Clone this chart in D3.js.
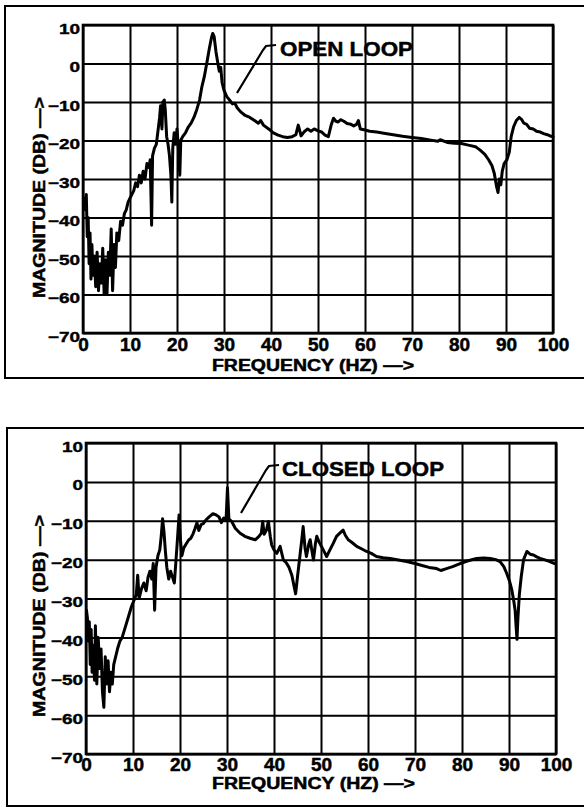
<!DOCTYPE html>
<html><head><meta charset="utf-8">
<script src="https://cdn.jsdelivr.net/npm/d3@7"></script>
<style>
html,body{margin:0;padding:0;background:#fff;}
svg{display:block;}
text{font-family:"Liberation Sans",Arial,sans-serif;font-weight:bold;fill:#000;stroke:#000;stroke-width:0.5px;}
</style></head>
<body>
<svg id="chart" width="584" height="808"></svg>
<script>
// ---------- DATA ----------
const xTicks = [0,10,20,30,40,50,60,70,80,90,100];
const yTicks = [10,0,-10,-20,-30,-40,-50,-60,-70];
const xTitle = "FREQUENCY (HZ) \u2014>";
const yTitle = "MAGNITUDE (DB) \u2014>";

const openFreq = [0.3,0.5,0.7,0.9,1.1,1.3,1.5,1.7,1.9,2.1,2.4,2.7,3.0,3.3,3.6,3.9,4.2,4.5,4.8,5.1,5.4,5.7,6.0,6.3,6.6,6.9,7.2,7.6,8.0,8.4,8.8,9.2,9.6,10.0,10.4,10.8,11.2,11.6,12.0,12.4,12.8,13.2,13.6,14.0,14.3,14.6,14.8,15.2,15.6,16.0,16.3,16.5,16.8,17.0,17.3,17.5,17.8,18.1,18.4,18.7,18.9,19.1,19.4,19.7,20.0,20.3,20.6,20.8,21.2,21.8,22.4,23.0,23.6,24.2,24.8,25.3,25.8,26.4,26.9,27.3,27.6,27.9,28.3,28.7,29.0,29.3,29.6,30.0,30.6,31.2,31.8,32.3,32.8,33.5,34.5,35.5,36.5,37.3,37.8,38.4,39.5,40.5,41.5,42.5,43.5,44.5,45.3,45.8,46.4,47.0,47.8,48.5,49.2,50.0,50.8,51.5,52.2,52.8,53.3,53.8,54.3,54.8,55.5,56.2,57.0,57.6,58.2,58.6,59.0,59.8,61,62.5,64,66,68,70,72,74,75.5,76,77.5,79,80.5,82,83.5,84.5,85.5,86.3,87,87.5,88,88.3,88.6,88.9,89.2,89.6,90.2,90.7,91.1,91.6,92.2,92.8,93.3,93.8,94.4,95,95.8,96.5,97.3,98,98.8,99.6,100];
const openMag = [-35,-38,-34,-45,-40,-52,-44,-56,-47,-55,-50,-58,-49,-59,-52,-57,-48,-60,-51,-60,-49,-55,-43,-59,-47,-53,-44,-46,-41,-42,-39,-38,-36,-35,-34,-33,-31,-32,-29,-31,-28,-30,-26,-27,-25,-42,-24,-22,-21,-17,-14,-11,-17,-10,-9.5,-12,-19,-21,-24,-29,-36,-22,-18,-21,-17,-22,-29,-20,-19,-18,-16.5,-15.5,-14,-12,-9.5,-6,-3.5,0.5,4,6.5,7.8,7,3,0,-2,-1,-5,-7,-8.6,-9.5,-10.5,-10.3,-11.5,-12.5,-13.5,-14,-14.8,-15.5,-14.8,-16,-17,-18,-18.6,-19,-19.2,-19,-18.5,-16,-18.8,-17.8,-17,-17.6,-17,-17.5,-17.8,-18.6,-19,-16,-14.2,-15,-15.2,-14.6,-15,-15.6,-15.8,-16.2,-15.8,-14.8,-17,-17.2,-17.6,-17.8,-18.1,-18.5,-18.9,-19.2,-19.5,-19.9,-20.2,-19.8,-20.5,-20.7,-20.8,-21.2,-21.6,-22.5,-23.6,-25,-26.5,-28.5,-32,-33.5,-30,-31.5,-28,-26,-25,-23,-19,-16.5,-14.8,-14,-14.5,-15.5,-15.8,-16.8,-17,-17.6,-17.8,-18.2,-18.5,-18.9,-19];

const closedFreq = [0.1,0.3,0.5,0.7,0.9,1.1,1.3,1.5,1.8,2.0,2.3,2.6,2.9,3.2,3.5,3.8,4.1,4.4,4.7,5.0,5.3,5.6,5.9,6.3,6.7,7.2,7.7,8.2,8.7,9.2,9.7,10.2,10.7,11.0,11.3,11.8,12.3,12.8,13.2,13.6,14.0,14.3,14.6,14.9,15.3,15.7,16.0,16.3,16.6,16.9,17.2,17.6,18.0,18.4,18.8,19.1,19.5,19.8,20.1,20.4,20.8,21.3,21.8,22.3,22.8,23.2,23.6,24.0,24.5,25.0,25.5,26.2,27.0,27.7,28.3,28.8,29.3,29.8,30.1,30.4,31.0,31.8,32.8,33.8,34.9,36.0,36.8,37.3,37.6,37.9,38.4,38.8,39.2,39.5,40.0,40.6,41.3,42.0,42.6,43.2,43.8,44.3,44.6,45.0,45.5,45.9,46.2,46.6,46.9,47.4,47.7,48.1,48.4,48.8,49.1,49.6,50.1,50.7,51.2,51.9,52.6,53.3,54.0,54.7,55.2,55.8,56.6,57.6,58.6,59.7,60.7,61.8,63.2,64.7,66.5,68.2,70,71.5,73,74.6,75.5,76.7,78,79.6,81.3,83.1,84.6,86,87.2,88.1,88.9,89.5,90.1,90.6,91.0,91.3,91.5,91.7,91.9,92.2,92.6,93.1,93.8,94.5,95.2,95.9,96.6,97.5,98.7,99.7];
const closedMag = [-33,-35,-41,-36,-47,-38,-49,-42,-51,-37,-52,-40,-48,-43,-54,-58,-45,-52,-46,-54,-49,-52,-47,-45,-43,-41,-40,-38,-36,-34,-32,-30.5,-29,-24,-30,-27.5,-26,-28,-24.5,-23,-25,-21,-33,-22,-19,-17.5,-14,-9.5,-13,-18,-22,-25,-23,-24.5,-26,-21,-14,-8.5,-15,-19,-17,-16,-15,-14.5,-13.3,-12,-10.5,-12.5,-11,-10.7,-9.8,-9,-8.2,-8.5,-9,-10.5,-9.3,-9.8,-1.5,-9.5,-10.2,-12,-13.2,-14,-14.5,-14.9,-14,-13.2,-10.2,-13.5,-12.4,-10.2,-14,-16.2,-17.5,-18.4,-16.6,-20.1,-20.8,-22,-24,-27,-28.8,-24.4,-19.2,-15,-11.5,-17,-19.2,-16,-14.9,-18,-20.1,-16,-14,-15.5,-16.6,-18,-19.2,-17.5,-15.8,-14,-13.2,-12.4,-13.8,-14.9,-15.6,-16.6,-17.2,-17.9,-18.4,-19.2,-19.5,-19.7,-20.1,-20.5,-21,-21.5,-22,-22.3,-22.8,-22.3,-21.8,-21,-20.3,-19.7,-19.6,-19.7,-20,-20.5,-21.8,-23.5,-25.5,-27.8,-30.5,-33,-37,-40.5,-35,-29,-24.4,-20,-17.9,-18.6,-18.8,-19.3,-19.7,-20,-20.5,-21];

const panelLabels = ["OPEN LOOP","CLOSED LOOP"];

// ---------- LAYOUT ----------
const panels = [
  {freq:openFreq, mag:openMag, label:panelLabels[0],
   frame:{x:5,y:6,w:620,h:372},
   plot:{l:83,r:553,t:25,b:333},
   labelPos:{x:280,y:56,len:133},
   leader:[[237,93],[263,50],[266,46],[276,45]],
   tickY:18,
   xTitle:{x:212,y:371,len:202}, yTitle:{x:45,y:298,len:201}},
  {freq:closedFreq, mag:closedMag, label:panelLabels[1],
   frame:{x:7,y:428,w:620,h:378},
   plot:{l:86,r:556,t:443,b:754},
   labelPos:{x:282,y:476,len:162},
   leader:[[241,513],[266,470],[269,466],[279,465]],
   tickY:17,
   xTitle:{x:212,y:789,len:203}, yTitle:{x:45,y:717,len:202}}
];

const svg = d3.select("#chart");

panels.forEach(p => {
  const g = svg.append("g");
  g.append("rect").attr("x",p.frame.x).attr("y",p.frame.y)
    .attr("width",p.frame.w).attr("height",p.frame.h)
    .attr("fill","none").attr("stroke","#000").attr("stroke-width",2);

  const x = d3.scaleLinear().domain([0,100]).range([p.plot.l,p.plot.r]);
  const y = d3.scaleLinear().domain([-70,10]).range([p.plot.b,p.plot.t]);
  const W = p.plot.r - p.plot.l, H = p.plot.b - p.plot.t;

  // grid + x tick labels
  const xa = g.append("g").attr("transform",`translate(0,${p.plot.b})`)
    .call(d3.axisBottom(x).tickValues(xTicks).tickSize(-H).tickPadding(0).tickFormat(d3.format("d")));
  xa.select(".domain").remove();
  xa.selectAll("line").attr("stroke","#000").attr("stroke-width",2);
  xa.selectAll("text").attr("dy",null).attr("y",p.tickY)
    .style("font-size","19px").attr("font-family",null);

  const ya = g.append("g").attr("transform",`translate(${p.plot.l},0)`)
    .call(d3.axisLeft(y).tickValues(yTicks).tickSize(-W).tickPadding(0).tickFormat(d3.format("d")));
  ya.select(".domain").remove();
  ya.selectAll("line").attr("stroke","#000").attr("stroke-width",2);
  ya.selectAll("text").attr("dy",null)
    .attr("transform","translate(-3,8) scale(1,0.75)")
    .attr("x",0).attr("y",0)
    .style("font-size","19px").attr("font-family",null);

  // plot border
  g.append("rect").attr("x",p.plot.l).attr("y",p.plot.t).attr("width",W).attr("height",H)
    .attr("fill","none").attr("stroke","#000").attr("stroke-width",2.6);

  // data line
  const pts = p.freq.map((f,i)=>[f,p.mag[i]]);
  g.append("path").datum(pts)
    .attr("d", d3.line().x(d=>x(d[0])).y(d=>y(d[1])))
    .attr("fill","none").attr("stroke","#000").attr("stroke-width",3)
    .attr("stroke-linejoin","round").attr("stroke-linecap","round");

  // annotation leader
  g.append("path").attr("d", d3.line()(p.leader))
    .attr("fill","none").attr("stroke","#000").attr("stroke-width",2.2);
  g.append("text").attr("x",p.labelPos.x).attr("y",p.labelPos.y)
    .attr("textLength",p.labelPos.len).attr("lengthAdjust","spacingAndGlyphs")
    .style("font-size","21px").text(p.label);

  // axis titles
  g.append("text").attr("x",p.xTitle.x).attr("y",p.xTitle.y)
    .attr("textLength",p.xTitle.len).attr("lengthAdjust","spacingAndGlyphs")
    .style("font-size","16px").text(xTitle);
  g.append("text").attr("transform",`translate(${p.yTitle.x},${p.yTitle.y}) rotate(-90)`)
    .attr("textLength",p.yTitle.len).attr("lengthAdjust","spacingAndGlyphs")
    .style("font-size","17px").text(yTitle);
});
</script>
</body></html>
